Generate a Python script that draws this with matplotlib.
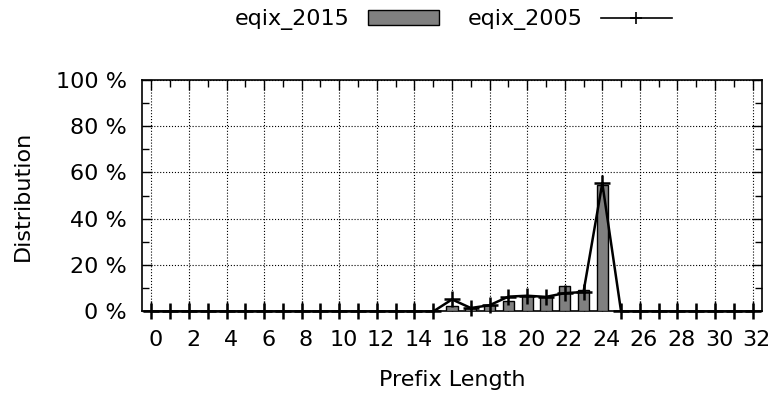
import matplotlib.pyplot as plt
import matplotlib.transforms as mtransforms
from matplotlib.ticker import MultipleLocator, FuncFormatter

# prefix lengths 0..32
prefix_lengths = list(range(33))

# eqix_2015 distribution (%), bars
eqix_2015 = [0, 0, 0, 0, 0, 0, 0, 0, 0, 0, 0, 0, 0, 0, 0, 0,
             2.4, 1.4, 2.8, 4.7, 6.5, 6.1, 11.0, 9.4, 54.6, 0.3,
             0, 0, 0, 0, 0, 0, 0]

# eqix_2005 distribution (%), line with + markers
eqix_2005 = [0, 0, 0, 0, 0, 0, 0, 0, 0, 0, 0, 0, 0, 0, 0, 0,
             5.2, 1.5, 2.7, 6.4, 6.8, 6.3, 7.9, 8.4, 55.3, 0,
             0, 0, 0, 0, 0, 0, 0]

fs = 16

fig = plt.figure(figsize=(7.71, 3.96), dpi=100)
ax = fig.add_axes([0.1842, 0.2134, 0.9883 - 0.1842, 0.7992 - 0.2134])

bars = ax.bar(prefix_lengths, eqix_2015, width=0.6, color='#808080',
              edgecolor='black', linewidth=1.0, label='eqix_2015', zorder=3)
line, = ax.plot(prefix_lengths, eqix_2005, color='black', linewidth=1.8,
                marker='+', markersize=11, markeredgewidth=1.8,
                label='eqix_2005', zorder=4, clip_on=False)

ax.set_xlim(-0.5, 32.5)
ax.set_ylim(0, 100)

ax.xaxis.set_major_locator(MultipleLocator(2))
ax.xaxis.set_minor_locator(MultipleLocator(1))
ax.yaxis.set_major_locator(MultipleLocator(20))
ax.yaxis.set_minor_locator(MultipleLocator(10))
ax.yaxis.set_major_formatter(FuncFormatter(lambda v, p: '%d %%' % v))

ax.tick_params(which='both', direction='in', top=True, right=True,
               labelsize=fs, width=1.0)
ax.tick_params(which='major', length=7)
ax.tick_params(which='minor', length=5)
ax.tick_params(axis='x', which='major', pad=13)
ax.tick_params(axis='y', which='major', pad=11)

# gnuplot puts the x labels a few pixels right of the ticks
shift = mtransforms.ScaledTranslation(0.04, 0, fig.dpi_scale_trans)
for lab in ax.get_xticklabels():
    lab.set_transform(lab.get_transform() + shift)

ax.grid(True, which='major', linestyle=':', color='black', linewidth=0.8, zorder=0)
for s in ax.spines.values():
    s.set_linewidth(1.2)

ax.set_xlabel('Prefix Length', fontsize=fs, va='center')
ax.set_ylabel('Distribution', fontsize=fs, va='center')
ax.xaxis.set_label_coords(0.5, -0.295)
ax.yaxis.set_label_coords(-0.192, 0.5)

leg = fig.legend(handles=[bars, line], labels=['eqix_2015', 'eqix_2005'],
                 loc='center', bbox_to_anchor=(0.588, 0.95), ncol=2, frameon=False,
                 markerfirst=False, fontsize=fs, handlelength=3.2, handletextpad=0.8,
                 columnspacing=1.3, borderpad=0, borderaxespad=0)
for l in leg.get_lines():
    l.set_linewidth(1.2)
    l.set_markersize(9)
    l.set_markeredgewidth(1.2)

fig.savefig('out.png')
